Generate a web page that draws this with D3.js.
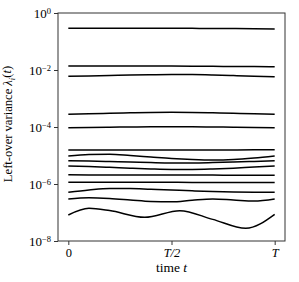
<!DOCTYPE html>
<html><head><meta charset="utf-8">
<script src="https://cdn.jsdelivr.net/npm/d3@7"></script>
<style>body{margin:0;background:#fff}svg{display:block}text{font-family:"Liberation Serif","DejaVu Serif",serif;fill:#000}</style>
</head><body><div id="chart"></div>
<script>
// time grid (fraction of T)
const times = [0, 0.1, 0.2, 0.3, 0.4, 0.5, 0.6, 0.7, 0.8, 0.9, 1];
const timesLast = [0, 0.1, 0.2, 0.37, 0.54, 0.7, 0.86, 1];

const s1  = [0.290, 0.291, 0.292, 0.292, 0.292, 0.291, 0.289, 0.287, 0.284, 0.280, 0.276];
const s2  = [0.0138, 0.0138, 0.0138, 0.0138, 0.0138, 0.0137, 0.0136, 0.0135, 0.0133, 0.0132, 0.0131];
const s3  = [0.00601, 0.00621, 0.00641, 0.00668, 0.00684, 0.00695, 0.00690, 0.00668, 0.00636, 0.00606, 0.00582];
const s4  = [2.79e-4, 2.90e-4, 3.03e-4, 3.15e-4, 3.25e-4, 3.28e-4, 3.25e-4, 3.15e-4, 3.03e-4, 2.90e-4, 2.79e-4];
const s5  = [9.45e-5, 9.6e-5, 9.8e-5, 1.0e-4, 1.02e-4, 1.025e-4, 1.02e-4, 1.0e-4, 9.8e-5, 9.6e-5, 9.45e-5];
const s6  = [1.56e-5, 1.56e-5, 1.56e-5, 1.56e-5, 1.56e-5, 1.56e-5, 1.56e-5, 1.57e-5, 1.57e-5, 1.58e-5, 1.58e-5];
const s7  = [9.6e-6, 1.08e-5, 1.11e-5, 1.0e-5, 8.85e-6, 7.85e-6, 7.24e-6, 6.95e-6, 7.24e-6, 8.17e-6, 9.6e-6];
const s8  = [6.57e-6, 6.41e-6, 6.16e-6, 5.91e-6, 5.63e-6, 5.45e-6, 5.45e-6, 5.63e-6, 5.91e-6, 6.2e-6, 6.57e-6];
const s9  = [4.28e-6, 4.11e-6, 3.85e-6, 3.58e-6, 3.36e-6, 3.23e-6, 3.23e-6, 3.36e-6, 3.6e-6, 3.93e-6, 4.28e-6];
const s10 = [2.1e-6, 2.09e-6, 2.08e-6, 2.07e-6, 2.06e-6, 2.05e-6, 2.05e-6, 2.05e-6, 2.04e-6, 2.04e-6, 2.04e-6];
const s11 = [1.15e-6, 1.15e-6, 1.15e-6, 1.15e-6, 1.15e-6, 1.15e-6, 1.14e-6, 1.14e-6, 1.14e-6, 1.13e-6, 1.13e-6];
const s12 = [5.12e-7, 6.15e-7, 6.95e-7, 6.95e-7, 6.51e-7, 6.15e-7, 5.77e-7, 5.45e-7, 5.24e-7, 5.16e-7, 5.16e-7];
const s13 = [2.98e-7, 3.28e-7, 3.10e-7, 2.75e-7, 2.43e-7, 2.37e-7, 2.70e-7, 2.98e-7, 2.75e-7, 2.53e-7, 2.98e-7];
const s14 = [8.16e-8, 1.40e-7, 1.17e-7, 6.79e-8, 1.16e-7, 5.73e-8, 2.79e-8, 8.65e-8];

const yTickExps = [0, -2, -4, -6, -8];
const xTicks = [0, 0.5, 1];
const xTickLabels = ["0", "T/2", "T"];

const series = [s1,s2,s3,s4,s5,s6,s7,s8,s9,s10,s11,s12,s13].map(v => ({t: times, v}));
series.push({t: timesLast, v: s14});

const W = 299, H = 282;
const m = {left: 58, right: 14, top: 13, bottom: 41};
const svg = d3.select("#chart").append("svg").attr("width", W).attr("height", H);

const x = d3.scaleLinear().domain([-0.05, 1.05]).range([m.left, W - m.right]);
const y = d3.scaleLog().domain([1e-8, 1]).range([H - m.bottom, m.top]);

const line = d3.line().x(d => x(d[0])).y(d => y(d[1])).curve(d3.curveMonotoneX);

svg.append("g").selectAll("path").data(series).join("path")
  .attr("d", s => line(s.t.map((t, i) => [t, s.v[i]])))
  .attr("fill", "none").attr("stroke", "#000").attr("stroke-width", 1.5);

// frame
svg.append("rect").attr("x", m.left).attr("y", m.top)
  .attr("width", W - m.right - m.left).attr("height", H - m.bottom - m.top)
  .attr("fill", "none").attr("stroke", "#333").attr("stroke-width", 1);

// y axis
const yAxis = d3.axisLeft(y).tickValues(yTickExps.map(e => Math.pow(10, e))).tickSize(4).tickFormat("");
const gy = svg.append("g").attr("transform", `translate(${m.left},0)`).call(yAxis);
gy.select(".domain").remove();
gy.selectAll(".tick line").attr("stroke", "#333");
gy.selectAll(".tick").each(function(d, i) {
  const t = d3.select(this).append("text").attr("x", -7).attr("dy", "0.35em")
    .attr("text-anchor", "end").attr("font-size", 13);
  t.append("tspan").text("10");
  t.append("tspan").attr("dy", "-0.45em").attr("font-size", 8.5)
    .text(yTickExps[i] === 0 ? "0" : "\u2212" + Math.abs(yTickExps[i]));
});

// x axis
const xAxis = d3.axisBottom(x).tickValues(xTicks).tickSize(4).tickFormat("");
const gx = svg.append("g").attr("transform", `translate(0,${H - m.bottom})`).call(xAxis);
gx.select(".domain").remove();
gx.selectAll(".tick line").attr("stroke", "#333");
gx.selectAll(".tick").append("text").attr("y", 15.5).attr("text-anchor", "middle")
  .attr("font-size", 12.5).attr("font-style", (d, i) => i === 0 ? "normal" : "italic")
  .text((d, i) => xTickLabels[i]);

// x label
const xl = svg.append("text").attr("x", x(0.5)).attr("y", 271.5).attr("text-anchor", "middle").attr("font-size", 13.5);
xl.append("tspan").text("time ");
xl.append("tspan").attr("font-style", "italic").text("t");

// y label
const yl = svg.append("text").attr("transform", `translate(12,124) rotate(-90)`)
  .attr("text-anchor", "middle").attr("font-size", 12.6);
yl.append("tspan").text("Left-over variance ");
yl.append("tspan").attr("font-style", "italic").text("\u03bb");
yl.append("tspan").attr("font-style", "italic").attr("font-size", 8.5).attr("dy", "0.3em").text("i");
yl.append("tspan").attr("dy", "-0.3em").text("(");
yl.append("tspan").attr("font-style", "italic").text("t");
yl.append("tspan").text(")");
</script></body></html>
